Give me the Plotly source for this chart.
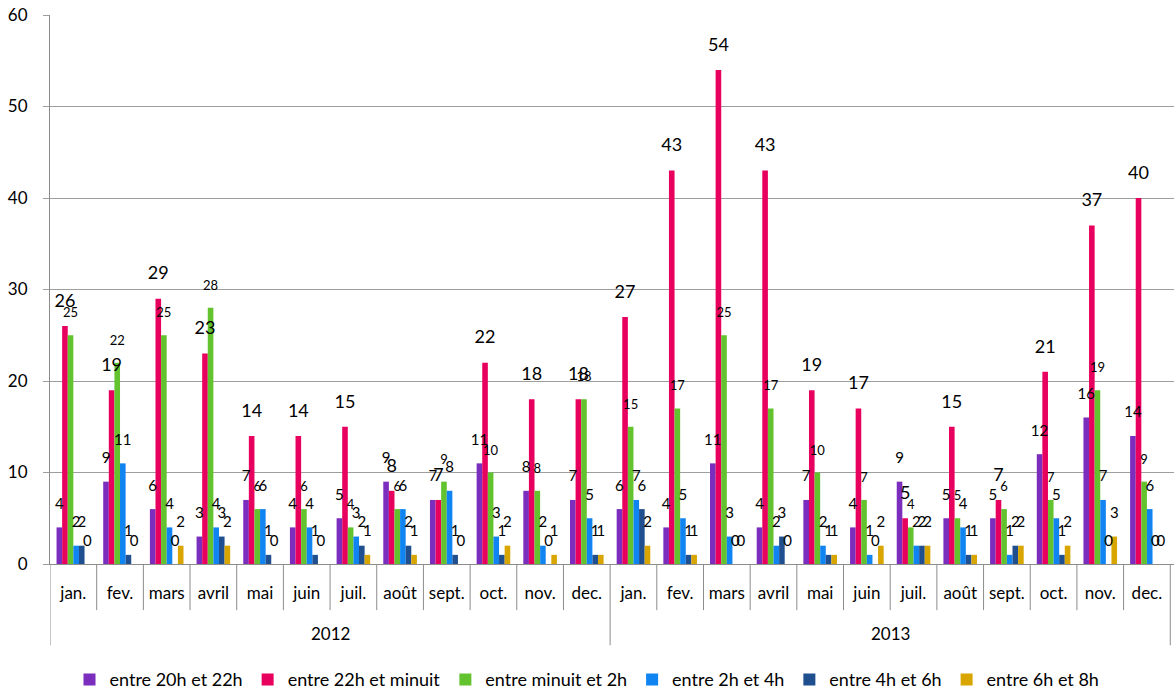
import plotly.graph_objects as go

years = ["2012"] * 12 + ["2013"] * 12
months = ["jan.", "fev.", "mars", "avril", "mai", "juin", "juil.", "août",
          "sept.", "oct.", "nov.", "dec."] * 2

series_names = ["entre 20h et 22h", "entre 22h et minuit", "entre minuit et 2h",
                "entre 2h et 4h", "entre 4h et 6h", "entre 6h et 8h"]

h20_22 = [4, 9, 6, 3, 7, 4, 5, 9, 7, 11, 8, 7,
          6, 4, 11, 4, 7, 4, 9, 5, 5, 12, 16, 14]
h22_00 = [26, 19, 29, 23, 14, 14, 15, 8, 7, 22, 18, 18,
          27, 43, 54, 43, 19, 17, 5, 15, 7, 21, 37, 40]
h00_02 = [25, 22, 25, 28, 6, 6, 4, 6, 9, 10, 8, 18,
          15, 17, 25, 17, 10, 7, 4, 5, 6, 7, 19, 9]
h02_04 = [2, 11, 4, 4, 6, 4, 3, 6, 8, 3, 2, 5,
          7, 5, 3, 2, 2, 1, 2, 4, 1, 5, 7, 6]
h04_06 = [2, 1, 0, 3, 1, 1, 2, 2, 1, 1, 0, 1,
          6, 1, 0, 3, 1, 0, 2, 1, 2, 1, 0, 0]
h06_08 = [0, 0, 2, 2, 0, 0, 1, 1, 0, 2, 1, 1,
          2, 1, 0, 0, 1, 2, 2, 1, 2, 2, 3, 0]

values = [h20_22, h22_00, h00_02, h02_04, h04_06, h06_08]
colors = ["#7B2DBE", "#E8005E", "#62C32E", "#1084F0", "#1F4F8F", "#D9A500"]
label_sizes = [15, 18, 13, 15, 15, 15]

FONT = "Lato, 'Open Sans', sans-serif"
AXIS_GREY = "#8C8C8C"
GAP = 0.28

# one unique category per (year, month) so the months can repeat on the axis
keys = [f"{y} {m}" for y, m in zip(years, months)]
n = len(keys)

fig = go.Figure()
for name, vals, col in zip(series_names, values, colors):
    fig.add_trace(go.Bar(
        x=keys, y=vals, name=name,
        marker=dict(color=col, line=dict(width=0)),
    ))

# value labels: grouped text points sitting a little above each bar
for name, vals, fs in zip(series_names, values, label_sizes):
    fig.add_trace(go.Scatter(
        x=keys, y=vals, name=name,
        mode="markers+text",
        marker=dict(size=22, opacity=0),
        text=[str(v) for v in vals],
        textposition="top center",
        textfont=dict(size=fs, color="#000000", family=FONT),
        cliponaxis=False,
        showlegend=False,
        hoverinfo="skip",
    ))

# month boxes: short dividers between months, longer ones between years
shapes = []
for i in range(n + 1):
    boundary = i == 0 or i == n or years[i] != years[i - 1]
    shapes.append(dict(
        type="line", xref="x", yref="paper",
        x0=i - 0.5, x1=i - 0.5,
        y0=0, y1=-0.148 if boundary else -0.084,
        line=dict(color=AXIS_GREY, width=1),
    ))

# year labels centred under their twelve months
annotations = []
for yr in dict.fromkeys(years):
    idx = [i for i, y in enumerate(years) if y == yr]
    annotations.append(dict(
        x=(idx[0] + idx[-1]) / 2, xref="x",
        y=-0.126, yref="paper",
        text=yr, showarrow=False,
        xanchor="center", yanchor="middle",
        font=dict(size=17, family=FONT, color="#000000"),
    ))

fig.update_layout(
    width=1174,
    height=695,
    margin=dict(l=50, r=0, t=15, b=131, autoexpand=False),
    paper_bgcolor="white",
    plot_bgcolor="white",
    barmode="group",
    bargap=GAP,
    bargroupgap=0,
    scattermode="group",
    scattergap=GAP,
    font=dict(family=FONT, size=16, color="#000000"),
    shapes=shapes,
    annotations=annotations,
    legend=dict(
        orientation="h",
        x=0.5, xanchor="center", xref="container",
        y=0.022, yanchor="middle", yref="container",
        font=dict(size=18, family=FONT),
        itemwidth=30,
    ),
    showlegend=True,
)

fig.update_xaxes(
    type="category",
    tickvals=keys,
    ticktext=months,
    range=[-0.5, n - 0.42],
    showline=True,
    linecolor=AXIS_GREY,
    linewidth=1,
    showgrid=False,
    ticks="",
    ticklabelstandoff=14,
    tickfont=dict(size=17, family=FONT),
)

fig.update_yaxes(
    range=[0, 60],
    dtick=10,
    showgrid=True,
    gridcolor="#9E9E9E",
    gridwidth=1,
    showline=True,
    linecolor=AXIS_GREY,
    zeroline=False,
    ticks="outside",
    ticklen=6,
    tickcolor="#9E9E9E",
    ticklabelstandoff=12,
    tickfont=dict(size=17, family=FONT),
)

fig.write_html("out.html")
